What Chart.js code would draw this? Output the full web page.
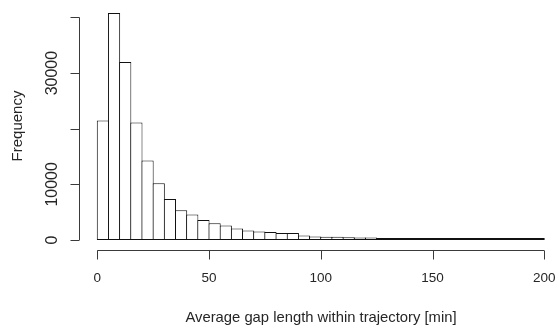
<!DOCTYPE html>
<html>
<head>
<meta charset="utf-8">
<script src="https://cdn.jsdelivr.net/npm/chart.js@4/dist/chart.umd.min.js"></script>
<style>
    html, body { margin: 0; padding: 0; background: #fff; }
    #wrap { width: 557px; height: 327px; position: relative; }
</style>
</head>
<body>
<div id="wrap"><canvas id="gapHistChart"></canvas></div>
<script>
// histogram bins (minutes) and their counts
const binMids = [2.5, 7.5, 12.5, 17.5, 22.5, 27.5, 32.5, 37.5, 42.5, 47.5,
    52.5, 57.5, 62.5, 67.5, 72.5, 77.5, 82.5, 87.5, 92.5, 97.5,
    102.5, 107.5, 112.5, 117.5, 122.5, 127.5, 132.5, 137.5, 142.5, 147.5,
    152.5, 157.5, 162.5, 167.5, 172.5, 177.5, 182.5, 187.5, 192.5, 197.5];
const counts = [21500, 40800, 32000, 21100, 14300, 10200, 7350, 5330, 4600, 3600,
    3000, 2600, 2050, 1720, 1550, 1440, 1260, 1250, 830, 650,
    600, 590, 480, 470, 460, 380, 370, 360, 350, 90,
    80, 70, 65, 55, 50, 45, 40, 35, 30, 28];
const xTicks = [0, 50, 100, 150, 200];
const yTicks = [0, 10000, 20000, 30000, 40000];
const yTickLabels = ['0', '10000', '', '30000', ''];
const xTitle = 'Average gap length within trajectory [min]';
const yTitle = 'Frequency';

document.addEventListener("DOMContentLoaded", function () {

    const colors = {
        bar: '#111111',
        axis: '#3a3a3a',
        text: '#262626'
    };

    const fontFamily = '"Liberation Sans", Arial, sans-serif';

    // R style axes, drawn off the chart scales
    const rAxes = {
        id: 'rAxes',
        afterDraw(chart) {
            const ctx = chart.ctx;
            const xs = chart.scales.x;
            const ys = chart.scales.y;
            const area = chart.chartArea;
            ctx.save();
            ctx.strokeStyle = colors.axis;
            ctx.fillStyle = colors.text;
            ctx.lineWidth = 1;

            // x axis
            const axY = Math.round(area.bottom) + 0.5;
            ctx.beginPath();
            ctx.moveTo(xs.getPixelForValue(xTicks[0]), axY);
            ctx.lineTo(xs.getPixelForValue(xTicks[xTicks.length - 1]), axY);
            xTicks.forEach(v => {
                const px = Math.round(xs.getPixelForValue(v)) + 0.5;
                ctx.moveTo(px, axY);
                ctx.lineTo(px, axY + 9);
            });
            ctx.stroke();
            ctx.font = '13.5px ' + fontFamily;
            ctx.textAlign = 'center';
            ctx.textBaseline = 'middle';
            xTicks.forEach(v => {
                ctx.fillText(String(v), xs.getPixelForValue(v), axY + 28);
            });
            ctx.font = '14.8px ' + fontFamily;
            ctx.fillText(xTitle, 321, 318);

            // y axis
            const axX = Math.round(area.left) - 0.5;
            ctx.beginPath();
            ctx.moveTo(axX, ys.getPixelForValue(yTicks[0]));
            ctx.lineTo(axX, ys.getPixelForValue(yTicks[yTicks.length - 1]));
            yTicks.forEach(v => {
                const py = Math.round(ys.getPixelForValue(v)) + 0.5;
                ctx.moveTo(axX, py);
                ctx.lineTo(axX - 9, py);
            });
            ctx.stroke();
            ctx.font = '16px ' + fontFamily;
            yTicks.forEach((v, i) => {
                if (!yTickLabels[i]) return;
                ctx.save();
                ctx.translate(52.5, ys.getPixelForValue(v));
                ctx.rotate(-Math.PI / 2);
                ctx.fillText(yTickLabels[i], 0, 0);
                ctx.restore();
            });
            ctx.font = '15px ' + fontFamily;
            ctx.save();
            ctx.translate(17.5, 126);
            ctx.rotate(-Math.PI / 2);
            ctx.fillText(yTitle, 0, 0);
            ctx.restore();

            ctx.restore();
        }
    };

    //HISTOGRAM
    const histCtx = document.getElementById('gapHistChart');
    if (histCtx) {
        new Chart(histCtx, {
            type: 'bar',
            data: {
                datasets: [{
                    data: binMids.map((m, i) => ({ x: m, y: counts[i] })),
                    backgroundColor: '#ffffff',
                    borderColor: colors.bar,
                    borderWidth: 1,
                    borderSkipped: false,
                    minBarLength: 2,
                    barPercentage: 1.09,
                    categoryPercentage: 1
                }]
            },
            options: {
                animation: false,
                responsive: true,
                maintainAspectRatio: false,
                layout: {
                    padding: { left: 80, right: 0, top: 0, bottom: 77 }
                },
                scales: {
                    x: {
                        type: 'linear',
                        display: false,
                        offset: false,
                        min: -7.74,
                        max: 205.7
                    },
                    y: {
                        type: 'linear',
                        display: false,
                        min: -1798,
                        max: 43142
                    }
                },
                plugins: {
                    legend: { display: false },
                    tooltip: { enabled: false }
                }
            },
            plugins: [rAxes]
        });
    }

});
</script>
</body>
</html>
